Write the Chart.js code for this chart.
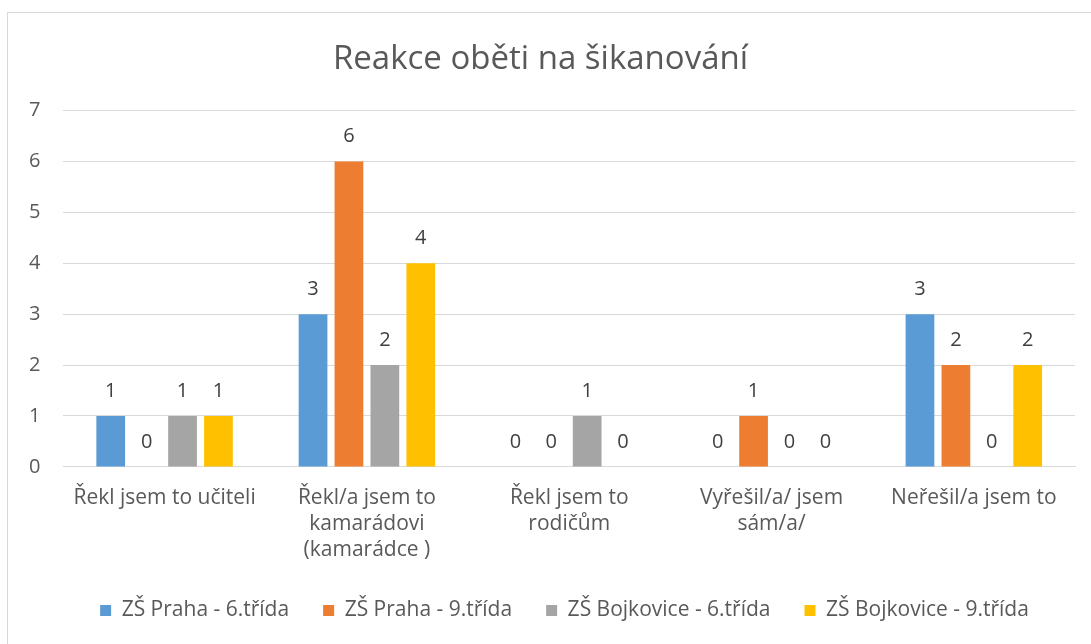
<!DOCTYPE html>
<html><head><meta charset="utf-8">
<script src="https://cdn.jsdelivr.net/npm/chart.js@4.4.0/dist/chart.umd.min.js"></script>
<style>
html,body{margin:0;padding:0;background:#fff;}
#box{position:absolute;left:7px;top:12px;width:1100px;height:640px;border:1px solid #d9d9d9;box-sizing:border-box;}
#wrap{position:absolute;left:0;top:0;width:1091px;height:644px;}
</style></head><body>
<div id="box"></div>
<div id="wrap"><canvas id="c" width="1091" height="644"></canvas></div>
<script>
const categories = [
  "Řekl jsem to učiteli",
  ["Řekl/a jsem to","kamarádovi","(kamarádce )"],
  ["Řekl jsem to","rodičům"],
  ["Vyřešil/a/ jsem","sám/a/"],
  "Neřešil/a jsem to"
];
const seriesNames = ["ZŠ Praha - 6.třída","ZŠ Praha - 9.třída","ZŠ Bojkovice - 6.třída","ZŠ Bojkovice - 9.třída"];
const prahaSix = [1,3,0,0,3];
const prahaNine = [0,6,0,1,2];
const bojkoviceSix = [1,2,1,0,0];
const bojkoviceNine = [1,4,0,0,2];
const yTicks = [0,1,2,3,4,5,6,7];
const colors = ["#5b9bd5","#ed7d31","#a5a5a5","#ffc000"];
const values = [prahaSix, prahaNine, bojkoviceSix, bojkoviceNine];
const FONT = '"Open Sans", "Liberation Sans", sans-serif';

const labelPlugin = {
  id:'labels',
  afterDatasetsDraw(chart){
    const ctx = chart.ctx;
    ctx.save();
    ctx.font = '20px ' + FONT;
    ctx.fillStyle = '#404040';
    ctx.textAlign = 'center';
    ctx.textBaseline = 'middle';
    chart.data.datasets.forEach((ds,i)=>{
      const meta = chart.getDatasetMeta(i);
      meta.data.forEach((bar,j)=>{
        ctx.fillText(String(ds.data[j]), bar.x, bar.y - 25);
      });
    });
    ctx.restore();
  }
};

const legendShift = {
  id:'legendShift',
  afterLayout(chart){
    const lg = chart.legend;
    if (!lg) return;
    lg.left += 24; lg.right += 24;
    lg.top += 3; lg.bottom += 3;
  }
};

new Chart(document.getElementById('c'), {
  type:'bar',
  data:{
    labels: categories,
    datasets: seriesNames.map((n,i)=>({label:n, data:values[i], backgroundColor:colors[i], borderWidth:0, categoryPercentage:0.71, barPercentage:0.8}))
  },
  options:{
    responsive:false,
    animation:false,
    layout:{padding:{left:6,right:16,top:30,bottom:16}},
    plugins:{
      title:{display:true,text:'Reakce oběti na šikanování',color:'#595959',
        font:{size:33,family:FONT,weight:'normal',lineHeight:1.2},padding:{top:10,bottom:31}},
      legend:{position:'bottom',labels:{boxWidth:11,boxHeight:11,color:'#595959',padding:34,
        font:{size:21,family:FONT}}},
      tooltip:{enabled:false}
    },
    scales:{
      x:{grid:{display:false},border:{display:true,color:'#d9d9d9'},
        afterFit(s){s.height -= 10;},
        ticks:{color:'#595959',padding:10,maxRotation:0,font:{size:21,family:FONT,lineHeight:1.24}}},
      y:{min:0,max:7,afterBuildTicks(s){s.ticks=yTicks.map(v=>({value:v}));},
        grid:{color:'#d9d9d9',lineWidth:1,drawTicks:false},border:{display:false},
        ticks:{color:'#595959',padding:23,font:{size:20,family:FONT}}}
    }
  },
  plugins:[labelPlugin, legendShift]
});
</script>
</body></html>
